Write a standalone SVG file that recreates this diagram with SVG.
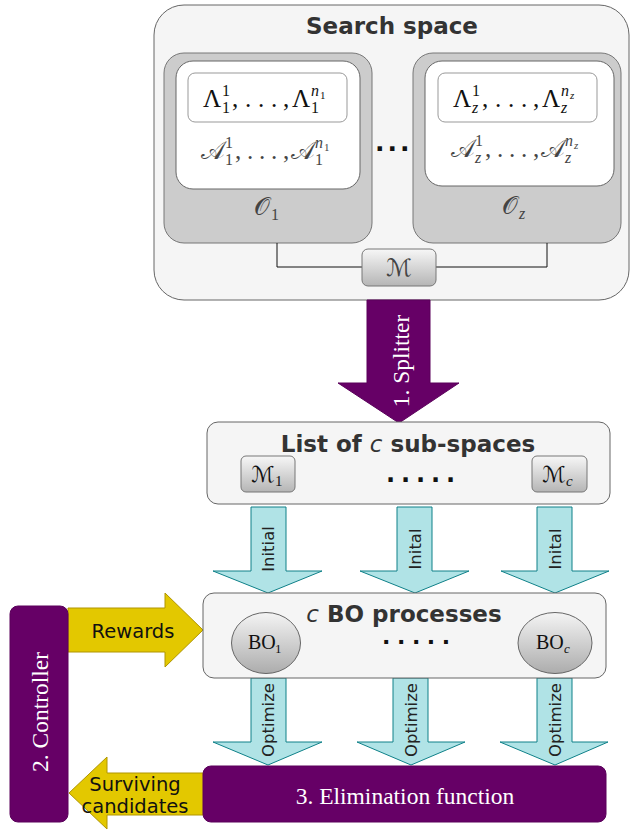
<svg xmlns="http://www.w3.org/2000/svg" width="630" height="830" viewBox="0 0 630 830">
<defs>
<linearGradient id="gbox" x1="0" y1="0" x2="0" y2="1">
<stop offset="0" stop-color="#f7f7f7"/><stop offset="1" stop-color="#b5b5b5"/>
</linearGradient>
<linearGradient id="gball" x1="0" y1="0" x2="0" y2="1">
<stop offset="0" stop-color="#f4f4f4"/><stop offset="1" stop-color="#acacac"/>
</linearGradient>
<style>
.panel{fill:#f5f5f5;stroke:#666;stroke-width:1}
.obox{fill:#cccccc;stroke:#777;stroke-width:1}
.wbox{fill:#fff;stroke:#666;stroke-width:1}
.lbox{fill:#fff;stroke:#999;stroke-width:1}
.mbox{fill:url(#gbox);stroke:#777;stroke-width:1}
.ball{fill:url(#gball);stroke:#666;stroke-width:1}
.purple{fill:#660066;stroke:#5a005a;stroke-width:1}
.yel{fill:#e3c800;stroke:#b09500;stroke-width:1}
.cyan{fill:#b0e3e6;stroke:#0e8088;stroke-width:1}
.title{font-family:"DejaVu Sans",Verdana,sans-serif;font-weight:bold;font-size:23px;fill:#333;text-anchor:middle}
.ital{font-family:"DejaVu Sans",sans-serif;font-style:italic;font-weight:normal}
.m{font-family:"Liberation Serif",serif;fill:#111}
.mg{font-family:"Liberation Serif","DejaVu Serif",serif;fill:#444}
.scr{font-family:"DejaVu Serif","DejaVu Sans","Noto Sans",serif}
.it{font-style:italic}
.lab{font-family:"DejaVu Sans",Verdana,sans-serif;font-size:16.5px;fill:#222;text-anchor:middle;dominant-baseline:central}
.wt{font-family:"Liberation Serif",serif;font-size:23.5px;fill:#fff;text-anchor:middle;dominant-baseline:central}
.yt{font-family:"DejaVu Sans",Verdana,sans-serif;font-size:19.5px;fill:#111;text-anchor:middle}
.dots{font-family:"DejaVu Sans",sans-serif;font-weight:bold;fill:#111}
.line{fill:none;stroke:#111;stroke-width:1}
</style>
</defs>

<g id="search-space">
<rect class="panel" x="154" y="5" width="475" height="295" rx="30"/>
<text class="title" x="392" y="34">Search space</text>
<text class="dots" x="375" y="151" font-size="25" letter-spacing="3">...</text>
</g>

<g id="op-1">
<rect class="obox" x="164" y="53" width="208" height="190" rx="20"/>
<rect class="wbox" x="176" y="61" width="184" height="128" rx="17"/>
<rect class="lbox" x="188" y="73" width="159" height="49" rx="7"/>
<text class="m" font-size="25"><tspan x="203" y="107">Λ</tspan><tspan x="222" y="96" font-size="16">1</tspan><tspan x="222" y="113" font-size="16">1</tspan><tspan x="232 245 258 271 283" y="107">,...,</tspan><tspan x="292" y="107">Λ</tspan><tspan class="it" x="311" y="96" font-size="16">n</tspan><tspan x="320" y="99" font-size="11">1</tspan><tspan x="311" y="113" font-size="16">1</tspan></text>
<text class="mg" font-size="25"><tspan class="scr" x="201" y="159">𝒜</tspan><tspan x="225" y="148" font-size="16">1</tspan><tspan x="225" y="165" font-size="16">1</tspan><tspan x="235 247 259 271 283" y="159">,...,</tspan><tspan class="scr" x="291" y="159">𝒜</tspan><tspan class="it" x="315" y="148" font-size="16">n</tspan><tspan x="324" y="151" font-size="11">1</tspan><tspan x="315" y="165" font-size="16">1</tspan></text>
<text class="mg" font-size="25"><tspan class="scr" x="254" y="215">𝒪</tspan><tspan x="271" y="220" font-size="16">1</tspan></text>
</g>

<g id="op-z">
<rect class="obox" x="413" y="53" width="208" height="190" rx="20"/>
<rect class="wbox" x="425" y="61" width="189" height="125" rx="17"/>
<rect class="lbox" x="438" y="73" width="159" height="49" rx="7"/>
<text class="m" font-size="25"><tspan x="453" y="107">Λ</tspan><tspan x="472" y="96" font-size="16">1</tspan><tspan class="it" x="472" y="113" font-size="16">z</tspan><tspan x="482 495 508 521 533" y="107">,...,</tspan><tspan x="542" y="107">Λ</tspan><tspan class="it" x="561" y="96" font-size="16">n</tspan><tspan class="it" x="570" y="99" font-size="11">z</tspan><tspan class="it" x="561" y="113" font-size="16">z</tspan></text>
<text class="mg" font-size="25"><tspan class="scr" x="451" y="157">𝒜</tspan><tspan x="475" y="146" font-size="16">1</tspan><tspan class="it" x="475" y="163" font-size="16">z</tspan><tspan x="485 497 509 521 533" y="157">,...,</tspan><tspan class="scr" x="541" y="157">𝒜</tspan><tspan class="it" x="565" y="146" font-size="16">n</tspan><tspan class="it" x="574" y="149" font-size="11">z</tspan><tspan class="it" x="565" y="163" font-size="16">z</tspan></text>
<text class="mg" font-size="25"><tspan class="scr" x="502" y="214">𝒪</tspan><tspan class="it" x="519" y="219" font-size="16">z</tspan></text>
</g>

<g id="connectors">
<polyline class="line" points="277,243 277,267 362,267"/>
<polyline class="line" points="436,267 547,267 547,243"/>
<polygon class="purple" points="367,300 430,300 430,383 459,383 399,423 338,383 367,383"/>
<polygon class="cyan" points="251,507 286,507 286,571 322,571 268,593 213,571 251,571"/>
<polygon class="cyan" points="397,507 432,507 432,571 469,571 415,593 360,571 397,571"/>
<polygon class="cyan" points="537,507 572,507 572,571 609,571 555,593 501,571 537,571"/>
<polygon class="cyan" points="251,678 286,678 286,742 322,742 268,765 213,742 251,742"/>
<polygon class="cyan" points="393,678 428,678 428,742 465,742 411,765 357,742 393,742"/>
<polygon class="cyan" points="537,678 572,678 572,742 608,742 555,765 500,742 537,742"/>
<polygon class="yel" points="68,608 165,608 165,593 203,630 165,667 165,652 68,652"/>
<polygon class="yel" points="204,773 107,773 107,757 69,793 107,829 107,815 204,815"/>
<text class="wt" transform="translate(401,361) rotate(-90)">1. Splitter</text>
<text class="lab" transform="translate(268,549) rotate(-90)">Initial</text>
<text class="lab" transform="translate(415,549) rotate(-90)">Inital</text>
<text class="lab" transform="translate(555,549) rotate(-90)">Inital</text>
<text class="lab" transform="translate(268,720) rotate(-90)">Optimize</text>
<text class="lab" transform="translate(411,720) rotate(-90)">Optimize</text>
<text class="lab" transform="translate(555,720) rotate(-90)">Optimize</text>
<text class="yt" x="133" y="638">Rewards</text>
<text class="yt" x="135" y="791">Surviving</text>
<text class="yt" x="135" y="813">candidates</text>
</g>

<g id="merge">
<rect class="mbox" x="362" y="249" width="74" height="37" rx="6"/>
<text class="mg scr" font-size="24" x="399" y="276" text-anchor="middle" fill="#111">ℳ</text>
</g>

<g id="sub-spaces">
<rect class="panel" x="207" y="422" width="403" height="82" rx="11"/>
<text class="title" x="408" y="452">List of <tspan class="ital">c</tspan> sub-spaces</text>
<text class="dots" x="386" y="482" font-size="24" letter-spacing="5.9">.....</text>
</g>
<g id="m-1">
<rect class="mbox" x="241" y="456" width="54" height="36" rx="5"/>
<text class="m" font-size="22"><tspan class="scr" x="251" y="482">ℳ</tspan><tspan x="275" y="486" font-size="15">1</tspan></text>
</g>
<g id="m-c">
<rect class="mbox" x="532" y="456" width="55" height="36" rx="5"/>
<text class="m" font-size="22"><tspan class="scr" x="542" y="482">ℳ</tspan><tspan class="it" x="566" y="486" font-size="15">c</tspan></text>
</g>

<g id="bo-processes">
<rect class="panel" x="203" y="593" width="403" height="85" rx="11"/>
<text class="title" x="404" y="622"><tspan class="ital">c</tspan> BO processes</text>
<text class="dots" x="382" y="649" font-size="22" letter-spacing="6.6">·····</text>
</g>
<g id="bo-1">
<ellipse class="ball" cx="266" cy="643" rx="34.5" ry="30.5"/>
<text class="m" font-size="20"><tspan x="248" y="649">BO</tspan><tspan x="275" y="653" font-size="13">1</tspan></text>
</g>
<g id="bo-c">
<ellipse class="ball" cx="555" cy="643" rx="37" ry="30.5"/>
<text class="m" font-size="20"><tspan x="536" y="649">BO</tspan><tspan class="it" x="564" y="653" font-size="13">c</tspan></text>
</g>

<g id="controller">
<rect class="purple" x="10" y="606" width="58" height="216" rx="8"/>
<text class="wt" transform="translate(40,712) rotate(-90)">2. Controller</text>
</g>

<g id="elimination">
<rect class="purple" x="203" y="766" width="403" height="56" rx="8"/>
<text class="wt" x="405" y="796">3. Elimination function</text>
</g>
</svg>
